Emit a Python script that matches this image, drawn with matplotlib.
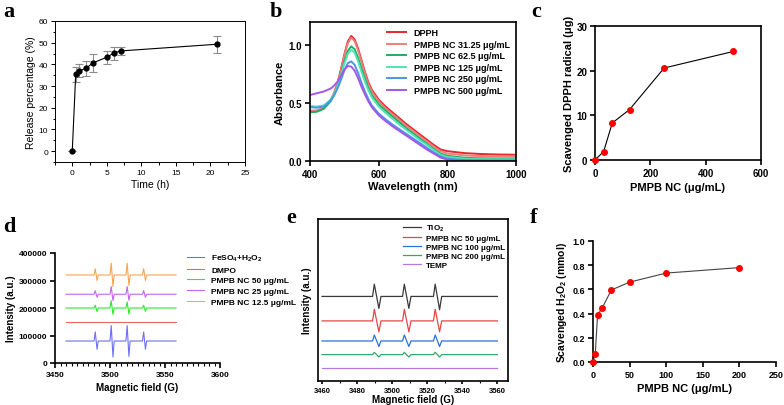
import numpy as np
import matplotlib
matplotlib.use("Agg")
import matplotlib.pyplot as plt
from matplotlib.ticker import MultipleLocator

plt.rcParams['font.family'] = ['Liberation Sans', 'DejaVu Sans']
plt.rcParams['mathtext.default'] = 'regular'

# ---- panel a: release
rel_time = [0, 0.5, 1, 2, 3, 5, 6, 7, 21]
rel_pct = [0, 35.5, 37.0, 38.2, 40.7, 43.3, 45.2, 46.2, 49.3]
rel_err = [0, 3.5, 3.0, 3.5, 4.2, 3.0, 3.0, 2.0, 4.0]

# ---- panel b: DPPH spectra
wl = [400, 420, 440, 460, 470, 480, 490, 500, 510, 520, 530, 540, 550, 560, 570,
      580, 600, 620, 640, 660, 680, 700, 720, 740, 760, 780, 800, 850, 900, 950, 1000]
abs_dpph = [.430, .432, .455, .525, .585, .670, .790, .920, 1.030, 1.080, 1.050, .970, .870, .770, .680,
            .615, .530, .470, .420, .370, .320, .275, .230, .185, .140, .100, .085, .068, .060, .056, .054]
abs_3125 = [.435, .437, .458, .527, .585, .665, .780, .910, 1.015, 1.065, 1.035, .955, .855, .755, .665,
            .600, .515, .455, .405, .355, .305, .260, .215, .170, .125, .085, .065, .048, .042, .039, .037]
abs_625 = [.420, .425, .450, .515, .570, .645, .745, .860, .950, .990, .965, .890, .800, .710, .630,
           .570, .490, .435, .385, .335, .285, .240, .195, .150, .105, .065, .045, .028, .023, .021, .020]
abs_125 = [.475, .470, .480, .530, .575, .645, .740, .840, .925, .960, .935, .860, .770, .685, .610,
           .550, .470, .415, .365, .315, .270, .225, .180, .140, .095, .055, .035, .020, .016, .015, .015]
abs_250 = [.465, .460, .470, .520, .565, .625, .700, .780, .845, .860, .830, .760, .675, .600, .535,
           .480, .410, .360, .315, .275, .235, .195, .155, .115, .075, .040, .020, .008, .006, .005, .005]
abs_500 = [.570, .585, .600, .625, .650, .685, .735, .790, .820, .815, .780, .715, .640, .575, .515,
           .465, .395, .345, .300, .260, .220, .180, .140, .100, .065, .030, .012, .003, .001, 0, 0]
b_labels = ['DPPH', 'PMPB NC 31.25 μg/mL', 'PMPB NC 62.5 μg/mL',
            'PMPB NC 125 μg/mL', 'PMPB NC 250 μg/mL', 'PMPB NC 500 μg/mL']
b_colors = ['#e8262b', '#f27d7d', '#1fae62', '#52e3b4', '#4a94ee', '#a656e6']

# ---- panel c: scavenged DPPH
c_conc = [0, 31.25, 62.5, 125, 250, 500]
c_scav = [0, 1.9, 8.3, 11.3, 20.6, 24.3]

# ---- panel d: EPR (DMPO-OH)
d_field = [3460, 3485.5, 3486.6, 3488.2, 3489.3, 3500.0, 3501.1, 3502.7, 3503.8,
           3514.5, 3515.6, 3517.2, 3518.3, 3529.5, 3530.6, 3532.2, 3533.3, 3560]
d_feso4 = [80000, 80000, 113000, 50000, 80000, 80000, 136000, 22000, 80000,
           80000, 136000, 24000, 80000, 80000, 113000, 50000, 80000, 80000]
d_dmpo = [150000] * 18
d_50 = [200000, 200000, 210000, 187000, 200000, 200000, 227000, 177000, 200000,
        200000, 222000, 178000, 200000, 200000, 210000, 188000, 200000, 200000]
d_25 = [250000, 250000, 263000, 239000, 250000, 250000, 278000, 227000, 250000,
        250000, 278000, 228000, 250000, 250000, 263000, 239000, 250000, 250000]
d_125 = [320000, 320000, 343000, 300000, 320000, 320000, 363000, 278000, 320000,
         320000, 363000, 282000, 320000, 320000, 343000, 300000, 320000, 320000]
d_labels = ['FeSO$_4$+H$_2$O$_2$', 'DMPO', 'PMPB NC 50 μg/mL',
            'PMPB NC 25 μg/mL', 'PMPB NC 12.5 μg/mL']
d_colors = ['#6f6ff2', '#f26464', '#2ee82e', '#c466f0', '#f7a655']

# ---- panel e: EPR (TEMP)
e_field = [3460, 3488.8, 3489.8, 3492.4, 3493.6, 3505.9, 3506.9, 3509.5, 3510.7,
           3523.5, 3524.5, 3527.0, 3528.2, 3560]
e_tio2 = [52.2, 52.2, 59.8, 44.8, 52.2, 52.2, 59.8, 44.8, 52.2, 52.2, 59.8, 44.0, 52.2, 52.2]
e_50 = [37.1, 37.1, 44.3, 30.3, 37.1, 37.1, 44.3, 30.3, 37.1, 37.1, 44.3, 30.3, 37.1, 37.1]
e_100 = [24.7, 24.7, 28.4, 21.3, 24.7, 24.7, 28.4, 21.3, 24.7, 24.7, 28.4, 21.3, 24.7, 24.7]
e_200 = [16.3, 16.3, 17.7, 14.8, 16.3, 16.3, 17.7, 14.8, 16.3, 16.3, 17.7, 14.8, 16.3, 16.3]
e_temp = [8.0] * 14
e_labels = ['TiO$_2$', 'PMPB NC 50 μg/mL', 'PMPB NC 100 μg/mL', 'PMPB NC 200 μg/mL', 'TEMP']
e_colors = ['#3a3a3a', '#e84545', '#2a72e0', '#35a865', '#b478e6']

# ---- panel f: scavenged H2O2
f_conc = [0, 3.125, 6.25, 12.5, 25, 50, 100, 200]
f_scav = [0, 0.07, 0.39, 0.445, 0.595, 0.66, 0.735, 0.78]

W, H = 784, 406
fig = plt.figure(figsize=(W / 100, H / 100), dpi=100)


def box(l, t, r, b):
    # pixel box -> figure axes
    return fig.add_axes([l / W, 1 - b / H, (r - l) / W, (b - t) / H])


def letter(x, y, s):
    fig.text(x / W, 1 - y / H, s, family='Liberation Serif', weight='bold',
             fontsize=16, va='baseline', ha='left')


def prism(ax, fs=7):
    # GraphPad-like look
    for s in ax.spines.values():
        s.set_linewidth(1.2)
    ax.tick_params(direction='out', length=3.5, width=1.2, labelsize=fs, pad=2)
    for lab in ax.get_xticklabels() + ax.get_yticklabels():
        lab.set_fontweight('bold')


# a
ax = box(55, 22, 245, 163)
ax.errorbar(rel_time, rel_pct, yerr=rel_err, fmt='o-', color='black', ms=3.5, lw=0.8,
            ecolor='#8c8c8c', elinewidth=0.8, capsize=3, capthick=0.8)
ax.set_xlim(-2.5, 25)
ax.set_ylim(-5, 60)
ax.xaxis.set_major_locator(MultipleLocator(5))
ax.xaxis.set_minor_locator(MultipleLocator(2.5))
ax.yaxis.set_major_locator(MultipleLocator(10))
ax.yaxis.set_minor_locator(MultipleLocator(5))
ax.tick_params(which='both', direction='out', labelsize=6, width=0.7, pad=2)
ax.tick_params(which='major', length=3)
ax.tick_params(which='minor', length=1.8)
for s in ax.spines.values():
    s.set_linewidth(0.7)
ax.set_xlabel('Time (h)', fontsize=7.5, labelpad=2)
ax.set_ylabel('Release percentage (%)', fontsize=7.5, labelpad=2)
letter(3, 17, 'a')

# b
ax = box(310, 23, 516, 162)
for ys, lab, col in zip([abs_dpph, abs_3125, abs_625, abs_125, abs_250, abs_500], b_labels, b_colors):
    ax.plot(wl, ys, color=col, lw=1.4, label=lab)
ax.set_xlim(400, 1000)
ax.set_ylim(0, 1.2)
ax.set_xticks([400, 600, 800, 1000])
ax.set_yticks([0, 0.5, 1.0])
ax.set_yticklabels(['0.0', '0.5', '1.0'])
prism(ax, 7)
ax.set_xlabel('Wavelength (nm)', fontsize=8, weight='bold', labelpad=2)
ax.set_ylabel('Absorbance', fontsize=8, weight='bold', labelpad=3)
ax.legend(loc='upper right', frameon=False, prop={'weight': 'bold', 'size': 6.5},
          handlelength=2.2, handletextpad=0.8, labelspacing=0.28, borderaxespad=0.3,
          bbox_to_anchor=(1.0, 1.0))
letter(270, 17, 'b')

# c
ax = box(595, 27, 761, 161)
ax.plot(c_conc, c_scav, '-', color='black', lw=0.8)
ax.plot(c_conc, c_scav, 'o', color='red', ms=4, clip_on=False, zorder=3)
ax.set_xlim(0, 600)
ax.set_ylim(0, 30)
ax.set_xticks([0, 200, 400, 600])
ax.set_yticks([0, 10, 20, 30])
prism(ax, 7)
ax.set_xlabel('PMPB NC (μg/mL)', fontsize=8, weight='bold', labelpad=3)
ax.set_ylabel('Scavenged DPPH radical (μg)', fontsize=8, weight='bold', labelpad=2)
letter(531, 17, 'c')

# d
ax = box(55, 254, 220, 364)
for ys, lab, col in zip([d_feso4, d_dmpo, d_50, d_25, d_125], d_labels, d_colors):
    ax.plot(d_field, ys, color=col, lw=0.8, label=lab)
ax.set_xlim(3450, 3600)
ax.set_ylim(0, 400000)
ax.set_xticks([3450, 3500, 3550, 3600])
ax.xaxis.set_minor_locator(MultipleLocator(5))
ax.set_yticks([0, 100000, 200000, 300000, 400000])
ax.spines['top'].set_visible(False)
ax.spines['right'].set_visible(False)
prism(ax, 6)
ax.tick_params(which='minor', direction='out', length=2, width=0.8)
ax.set_xlabel('Magnetic field (G)', fontsize=7, weight='bold', labelpad=3)
ax.set_ylabel('Intensity (a.u.)', fontsize=7, weight='bold', labelpad=2)
ax.legend(loc='upper left', bbox_to_anchor=(0.8, 1.0), frameon=False,
          prop={'weight': 'bold', 'size': 6}, handlelength=2.0, handletextpad=0.9,
          labelspacing=0.33, borderaxespad=0, borderpad=0)
letter(3, 232, 'd')

# e
ax = box(318, 220, 508, 382)
for ys, lab, col in zip([e_tio2, e_50, e_100, e_200, e_temp], e_labels, e_colors):
    ax.plot(e_field, ys, color=col, lw=0.9, label=lab)
ax.set_xlim(3457.7, 3566)
ax.set_ylim(0, 100)
ax.set_xticks([3460, 3480, 3500, 3520, 3540, 3560])
ax.xaxis.set_minor_locator(MultipleLocator(10))
ax.set_yticks([])
prism(ax, 5.5)
ax.tick_params(which='major', length=2.5, pad=1.5)
ax.tick_params(which='minor', direction='out', length=1.5, width=0.8)
ax.set_xlabel('Magnetic field (G)', fontsize=7, weight='bold', labelpad=0.5)
ax.set_ylabel('Intensity (a.u.)', fontsize=7, weight='bold', labelpad=4)
ax.legend(loc='upper right', bbox_to_anchor=(0.985, 0.975), frameon=False,
          prop={'weight': 'bold', 'size': 5.8},
          handlelength=2.3, handletextpad=0.6, labelspacing=0.15, borderaxespad=0, borderpad=0)
letter(286, 223, 'e')

# f
ax = box(593, 242, 776, 363)
ax.plot(f_conc, f_scav, '-', color='#444444', lw=0.8)
ax.plot(f_conc, f_scav, 'o', color='red', ms=4, clip_on=False, zorder=3)
ax.set_xlim(0, 250)
ax.set_ylim(0, 1.0)
ax.set_xticks([0, 50, 100, 150, 200, 250])
ax.set_yticks([0, 0.2, 0.4, 0.6, 0.8, 1.0])
ax.set_yticklabels(['0.0', '0.2', '0.4', '0.6', '0.8', '1.0'])
ax.spines['top'].set_visible(False)
ax.spines['right'].set_visible(False)
prism(ax, 6.5)
ax.set_xlabel('PMPB NC (μg/mL)', fontsize=8, weight='bold', labelpad=3)
ax.set_ylabel('Scavenged H$_2$O$_2$ (mmol)', fontsize=7.5, weight='bold', labelpad=3)
letter(530, 223, 'f')

fig.savefig('out.png', dpi=100)
